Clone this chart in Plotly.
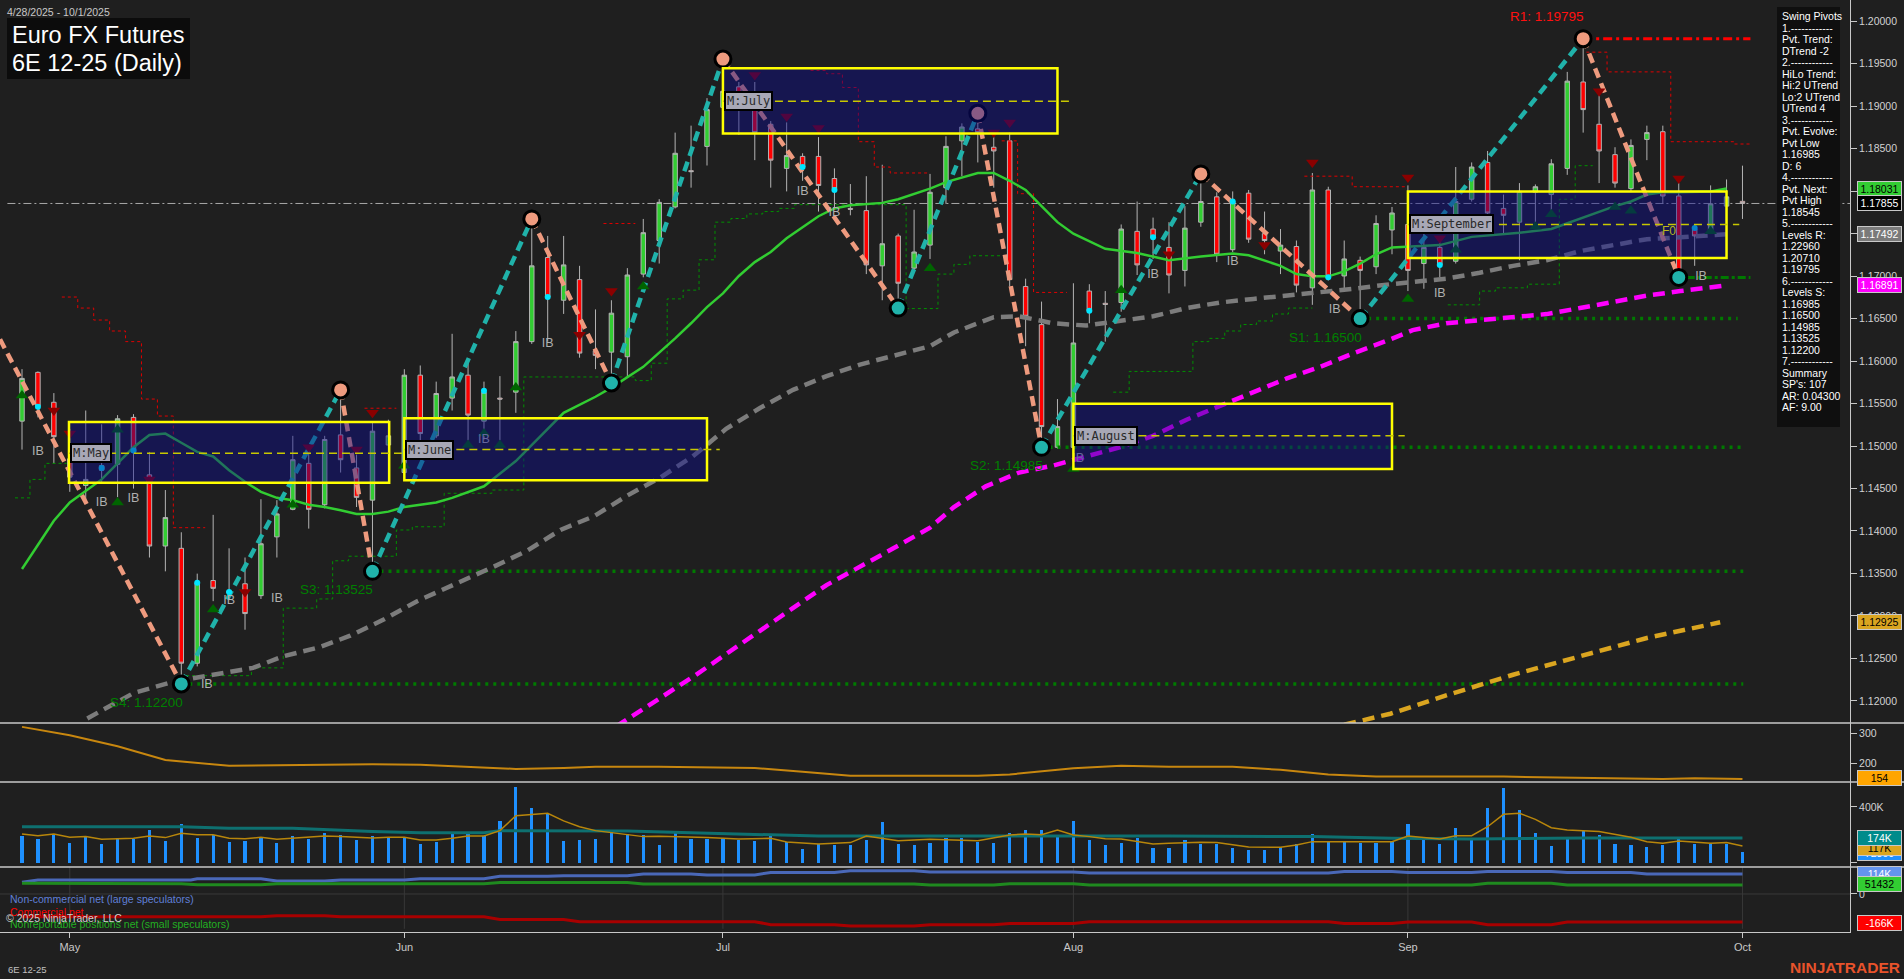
import plotly.graph_objects as go

# ---------------- data ----------------
bar_idx = list(range(109))
opens = [1.15293,1.15867,1.15515,1.14850,1.14536,1.14769,1.14785,1.15337,1.14661,1.13823,
1.13796,1.12444,1.13417,1.13293,1.13379,1.13239,1.13931,1.14255,1.14796,1.14309,
1.15131,1.14742,1.14363,1.15012,1.14688,1.15834,1.15120,1.15564,1.15834,1.15293,
1.15564,1.15634,1.16229,1.17219,1.16716,1.16959,1.16121,1.16105,1.16051,1.17024,
1.17419,1.17814,1.18241,1.18527,1.18987,1.19228,1.19014,1.18787,1.18268,1.18409,
1.18409,1.18149,1.17797,1.17771,1.17121,1.17473,1.17094,1.17365,1.18041,1.18592,
1.18733,1.18517,1.18592,1.16878,1.16429,1.14985,1.14985,1.16824,1.16680,1.16689,
1.17527,1.17554,1.17338,1.17067,1.17635,1.17933,1.17311,1.17976,1.17500,1.17295,
1.17349,1.16862,1.18014,1.17002,1.17186,1.17110,1.17543,1.17608,1.17148,1.17338,
1.17175,1.17905,1.18338,1.17797,1.17635,1.17987,1.17960,1.18268,1.19285,1.18787,
1.18430,1.18030,1.18609,1.18700,1.17943,1.17554,1.17527,1.17824,1.17880]
highs = [1.15905,1.15878,1.15623,1.15202,1.15418,1.15256,1.15364,1.15375,1.14931,1.14482,
1.13985,1.13498,1.14190,1.13796,1.13688,1.14374,1.14363,1.15120,1.15012,1.15120,
1.15661,1.14985,1.15283,1.15310,1.15904,1.15948,1.15758,1.16321,1.15986,1.15758,
1.15823,1.16353,1.17673,1.17473,1.17473,1.17121,1.16608,1.16716,1.17094,1.17673,
1.17906,1.18689,1.18771,1.19095,1.19555,1.19285,1.19285,1.18825,1.18809,1.18446,
1.18636,1.18268,1.18084,1.18176,1.18311,1.17500,1.17781,1.18203,1.18646,1.18798,
1.18917,1.18636,1.18689,1.16970,1.16700,1.15553,1.16916,1.16905,1.16824,1.17608,
1.17878,1.17689,1.17635,1.17824,1.18203,1.17987,1.17997,1.18014,1.17760,1.17554,
1.17419,1.18214,1.18052,1.17419,1.17230,1.17716,1.17814,1.18068,1.17527,1.17446,
1.18284,1.18338,1.18473,1.17960,1.18095,1.18079,1.18376,1.19404,1.19795,1.19176,
1.18517,1.18609,1.18771,1.18771,1.18095,1.17581,1.18068,1.18138,1.18300]
lows = [1.14958,1.15337,1.14796,1.14461,1.14363,1.14579,1.14398,1.14499,1.13688,1.13525,
1.12200,1.12406,1.13174,1.13238,1.12838,1.13200,1.13688,1.14244,1.14028,1.14266,
1.14688,1.14282,1.13525,1.14553,1.14661,1.15066,1.15093,1.15418,1.15066,1.15077,
1.15066,1.15391,1.16202,1.16229,1.16555,1.16040,1.15905,1.15742,1.15823,1.16986,
1.17148,1.17797,1.18041,1.18302,1.18906,1.18663,1.18365,1.18041,1.17997,1.18122,
1.17760,1.17797,1.17716,1.17024,1.16716,1.16624,1.17067,1.17202,1.17851,1.18176,
1.18338,1.18041,1.16878,1.16175,1.14985,1.14969,1.14850,1.16445,1.16229,1.16581,
1.17013,1.17202,1.16797,1.16878,1.17581,1.17165,1.17284,1.17392,1.17257,1.17024,
1.16808,1.16662,1.16948,1.16824,1.16500,1.17024,1.17257,1.16824,1.16851,1.16986,
1.17148,1.17878,1.17716,1.17500,1.17186,1.17581,1.17716,1.18192,1.18689,1.18095,
1.18041,1.17987,1.18365,1.17851,1.16985,1.17121,1.17500,1.17781,1.17673]
closes = [1.15796,1.15472,1.15110,1.14634,1.14607,1.14715,1.15321,1.14931,1.13823,1.14158,
1.12444,1.13390,1.13325,1.13271,1.13028,1.13850,1.14201,1.14839,1.14255,1.15077,
1.14839,1.14396,1.15175,1.15120,1.15834,1.15147,1.15618,1.15813,1.15364,1.15634,
1.15553,1.16229,1.17121,1.16754,1.17132,1.16094,1.16067,1.16564,1.17013,1.17511,
1.17868,1.18446,1.18230,1.18960,1.19176,1.19093,1.18689,1.18365,1.18419,1.18284,
1.18067,1.18029,1.17787,1.17132,1.17381,1.16916,1.17284,1.17987,1.18527,1.18755,
1.18689,1.18473,1.16959,1.16527,1.15229,1.15229,1.16213,1.16591,1.16667,1.17554,
1.17132,1.17457,1.17013,1.17565,1.17878,1.17257,1.17878,1.17435,1.17419,1.17365,
1.16894,1.18014,1.16986,1.17202,1.17067,1.17619,1.17743,1.17067,1.17338,1.17132,
1.17878,1.18284,1.17743,1.17716,1.17997,1.18052,1.18322,1.19295,1.18960,1.18473,
1.18095,1.18538,1.18689,1.17943,1.17067,1.17473,1.17851,1.17933,1.17855]
volume_k = [194,170,206,141,191,136,177,170,235,156,
278,180,196,148,156,175,141,191,168,213,
199,163,191,180,180,134,148,211,211,191,
299,546,393,354,156,163,170,235,206,199,
127,213,170,170,180,163,156,199,148,98,
134,127,127,163,292,134,127,141,177,177,
148,141,213,235,235,187,299,163,127,141,
177,105,105,163,134,134,105,91,91,112,
134,206,156,148,141,141,148,278,163,134,
249,177,393,536,378,213,120,184,227,199,
134,127,112,127,184,134,134,134,77]

month_tick_pos = [3, 24, 44, 66, 87, 108]
month_tick_text = ["May", "Jun", "Jul", "Aug", "Sep", "Oct"]
price_tick_vals = [1.120, 1.125, 1.130, 1.135, 1.140, 1.145, 1.150, 1.155, 1.160,
                   1.165, 1.170, 1.175, 1.180, 1.185, 1.190, 1.195, 1.200]
price_tick_text = ["1.12000", "1.12500", "1.13000", "1.13500", "1.14000", "1.14500",
                   "1.15000", "1.15500", "1.16000", "1.16500", "1.17000", "1.17500",
                   "1.18000", "1.18500", "1.19000", "1.19500", "1.20000"]

# moving averages
ma_green_x = [0,2,3,4,5,6,7,8,9,10,11,12,13,14,15,16,17,18,19,20,21,22,23,24,25,26,27,28,29,31,33,34,36,37,39,40,41,42,43,44,45,46,47,48,49,50,51,52,54,55,57,58,60,61,62,63,64,65,66,68,70,72,74,76,77,79,80,81,82,83,84,85,86,87,89,91,94,96,98,100,101,102,103,104,106,107]
ma_green_y = [1.13552,1.14120,1.14336,1.14471,1.14607,1.14796,1.14985,1.15131,1.15147,1.15039,1.14931,1.14877,1.14715,1.14580,1.14461,1.14390,1.14363,1.14309,1.14282,1.14244,1.14201,1.14201,1.14228,1.14282,1.14309,1.14336,1.14390,1.14461,1.14526,1.14823,1.15202,1.15391,1.15580,1.15688,1.15932,1.16094,1.16267,1.16445,1.16635,1.16797,1.17002,1.17165,1.17284,1.17446,1.17581,1.17705,1.17797,1.17835,1.17862,1.17905,1.18030,1.18106,1.18214,1.18214,1.18122,1.18014,1.17824,1.17635,1.17500,1.17322,1.17273,1.17186,1.17230,1.17267,1.17246,1.17121,1.17024,1.16997,1.16997,1.17056,1.17148,1.17257,1.17338,1.17349,1.17365,1.17462,1.17511,1.17554,1.17689,1.17824,1.17878,1.17960,1.17987,1.17987,1.17997,1.18031]
ma_gray_x = [4.1,7.0,9.5,12.0,14.5,16.4,18.7,20.6,22.7,24.8,28.1,29.6,31.7,33.8,35.9,38.0,40.1,42.1,44.2,46.3,48.4,50.5,52.6,54.7,57.0,58.5,61.0,62.6,64.7,66.8,68.9,71.0,73.1,75.2,77.3,79.4,81.5,83.6,85.9,89.4,91.5,93.6,95.7,97.8,99.9,102.0,104.1,107.0]
ma_gray_y = [1.11794,1.12092,1.12227,1.12308,1.12389,1.12525,1.12633,1.12768,1.12957,1.13174,1.13444,1.13579,1.13768,1.14012,1.14174,1.14417,1.14634,1.14877,1.15202,1.15445,1.15661,1.15823,1.15959,1.16067,1.16175,1.16337,1.16516,1.16527,1.16445,1.16418,1.16472,1.16527,1.16624,1.16689,1.16732,1.16770,1.16808,1.16851,1.16905,1.16970,1.17040,1.17121,1.17186,1.17294,1.17365,1.17435,1.17457,1.17492]
ma_magenta_x = [37.3,42.1,46.3,50.5,54.7,57.0,58.5,60.5,62.6,64.7,66.8,68.9,71.0,73.1,75.2,77.3,79.4,81.5,83.6,85.9,87.3,89.4,91.5,93.6,95.7,97.8,99.9,102.0,104.1,107.0]
ma_magenta_y = [1.11700,1.12281,1.12822,1.13363,1.13796,1.14039,1.14282,1.14526,1.14688,1.14769,1.14877,1.14985,1.15120,1.15310,1.15472,1.15634,1.15796,1.15932,1.16094,1.16256,1.16364,1.16445,1.16483,1.16526,1.16553,1.16624,1.16700,1.16770,1.16824,1.16891]
ma_gold_x = [83.0,85.9,89.4,93.6,97.8,102.0,106.6]
ma_gold_y = [1.11720,1.11849,1.12065,1.12308,1.12525,1.12741,1.12925]

# swing pivots
swing_x = [-1.38, 10, 20, 22, 32, 37, 44, 55, 60, 64, 74, 84, 98, 104]
swing_y = [1.16256, 1.12200, 1.15661, 1.13525, 1.17673, 1.15742, 1.19555, 1.16624,
           1.18917, 1.14985, 1.18203, 1.16500, 1.19795, 1.16985]

# trailing stop steps (None = gap)
stop_red_x = [2.5,3.5,4.5,5.5,6.5,7.5,8.5,9.5,11.5,None,21.5,23.5,None,36.5,38.5,None,
              49.5,50.5,51.5,52.5,53.5,54.5,57.0,None,61.5,62.5,63.5,65.6,None,
              80.5,83.5,86.8,None,98.2,99.5,103.5,107.5,108.5]
stop_red_y = [1.16754,1.16624,1.16483,1.16354,1.16229,1.15553,1.15353,1.14039,1.14039,None,
              1.15445,1.15445,None,1.17619,1.17619,None,
              1.19420,1.19382,1.19220,1.18582,1.18284,1.18214,1.18214,None,1.18592,1.17970,1.16808,1.16808,None,
              1.18176,1.18052,1.18052,None,1.19636,1.19404,1.18582,1.18555,1.18555]
stop_green_x = [-0.44,0.5,1.44,2.8,None,10.3,14.4,16.4,18.5,19.5,20.5,23.5,24.5,26.5,29.5,31.5,38.5,39.5,40.5,41.5,42.5,43.5,44.5,45.5,46.5,47.5,48.5,55.5,57.5,58.5,59.5,61.5,None,
                68.5,69.5,73.5,74.5,75.5,76.5,77.5,78.5,79.5,81.0,None,89.5,91.5,92.5,94.5,96.5,97.5,98.6]
stop_green_y = [1.14390,1.14607,1.14796,1.14796,None,1.12297,1.12389,1.13092,1.13200,1.13649,1.13703,1.14012,1.14050,1.14444,1.14482,1.15813,1.15770,1.15975,1.16732,1.16835,1.17192,1.17635,1.17678,1.17732,1.17760,1.17797,1.17841,1.16618,1.17024,1.17138,1.17240,1.17240,None,
                1.15634,1.15878,1.16229,1.16267,1.16354,1.16430,1.16472,1.16554,1.16624,1.16624,None,1.16662,1.16824,1.16862,1.16905,1.17905,1.18300,1.18300]

# signal markers
tri_up_x = [0,6,6,12,17,24,28,29,30,31,39,57,66,69,87,90,95,96,100,101,106]
tri_up_y = [1.15596,1.15191,1.14336,1.13076,1.14309,1.14769,1.15012,1.15147,1.15012,1.15688,1.16878,1.17094,1.14731,1.16835,1.16732,1.17311,1.17581,1.17727,1.17814,1.17770,1.17527]
tri_dn_x = [2,3,8,14,18,21,22,35,37,46,48,50,61,62,72,78,81,87,89,99,104]
tri_dn_y = [1.15418,1.15147,1.14607,1.13282,1.14985,1.14958,1.15391,1.16310,1.16824,1.19366,1.18879,1.18744,1.18689,1.18809,1.17257,1.17365,1.18338,1.18160,1.17446,1.19176,1.18149]
dot_x = [1,5,7,11,13,29,33,49,51,67,71,76,82,89,105]
dot_y = [1.15461,1.14742,1.14947,1.13390,1.13282,1.15650,1.16754,1.18284,1.18014,1.16591,1.17457,1.17878,1.16986,1.17132,1.17565]
ib_x = [1,5,7,11.6,13,16,29,33,49,51,66.3,71,76,82.4,89,105.4]
ib_y = [1.14931,1.14336,1.14379,1.12184,1.13174,1.13200,1.15077,1.16202,1.17987,1.17743,1.14850,1.17013,1.17165,1.16608,1.16786,1.16986]

# monthly value boxes
box_names = ["M:May", "M:June", "M:July", "M:August", "M:September"]
box_x0 = [2.95, 24.0, 44.0, 66.0, 87.0]
box_x1 = [23.05, 43.0, 65.0, 86.0, 107.0]
box_top = [1.15283, 1.15326, 1.19447, 1.15499, 1.17997]
box_bot = [1.14569, 1.14596, 1.18679, 1.14731, 1.17213]
box_mid = [1.14915, 1.14958, 1.19057, 1.15120, 1.17608]

# support / resistance levels
sup_names = ["S4: 1.12200", "S3: 1.13525", "S2: 1.14985", "S1: 1.16500"]
sup_vals = [1.12200, 1.13525, 1.14985, 1.16500]
sup_start = [10, 22, 64, 84]
sup_end = [108.05, 108.05, 107.9, 107.7]
sup_label_x = [7.8, 19.75, 61.8, 81.8]
sup_label_y = [1.11984, 1.13309, 1.14769, 1.16283]
r1_val = 1.19795
last_price = 1.17855

# lower panels
atr_x = [0,3,6,9,13,18,22,25,28,31,34,36,40,43,46,49,52,58,60,62,64,66,69,72,76,79,82,85,93,96,103,105,108]
atr_y = [320,293,257,212,193,197,198,197,190,183,186,190,190,189,186,174,161,161,161,165,174,185,193,190,190,180,165,158,158,156,150,153,150]
vavg_gold_x = [0,1,2,3,4,5,6,7,8,9,10,11,12,13,14,15,16,17,18,19,20,21,22,23,24,25,26,27,28,29,30,31,32,33,34,35,36,37,38,39,40,42,43,45,47,48,50,52,53,55,57,60,62,63,64,65,66,67,68,69,71,72,74,75,77,79,80,81,86,87,89,90,91,92,93,94,95,96,97,99,101,102,103,104,106,107,108]
vavg_gold_k = [206,194,206,182,187,168,172,175,191,180,211,201,201,175,172,182,168,177,182,191,187,182,177,182,182,163,163,175,191,191,230,337,347,355,300,258,230,215,199,187,190,185,180,170,175,148,134,144,191,158,168,158,199,206,201,235,199,187,172,170,134,139,146,144,112,110,127,151,151,191,170,194,194,258,347,354,311,251,235,223,182,151,139,156,139,144,120]
vavg_teal_x = [0,10,13,17,22,25,29,30,38,43,48,50,72,81,86,91,98,108]
vavg_teal_k = [258,258,247,247,223,215,215,230,227,211,199,191,191,187,175,170,177,177]
cot_nc_x = [0,1,10.6,11,15,16,19,20,24,25,29,30,33,34,38,39,42,43,46,47,51,52,56,57,66,67,82,83,86,87,91,92,96,97,101,102,108]
cot_nc_k = [67,80,80,87,87,74,74,80,80,87,87,101,101,104,104,114,114,109,109,122,122,133,133,126,126,120,120,128,128,122,122,128,128,122,122,114,114]
cot_nr_x = [0,10,11,15,16,29,30,38,39,56,57,61,62,66,67,91,92,96,97,108]
cot_nr_k = [61,59,53,53,59,59,65,65,57,57,51,51,59,59,51,51,61,61,51,51]
cot_cm_x = [0,15,16,19,20,29,30,34,35,46,47,51,52,56,57,61,62,66,67,82,83,86,87,91,92,96,97,108]
cot_cm_k = [-130,-130,-124,-124,-130,-130,-145,-145,-158,-158,-175,-175,-183,-183,-175,-175,-168,-168,-158,-158,-168,-168,-160,-160,-175,-175,-160,-160]

info_lines = ["Swing Pivots", "1.------------", "Pvt. Trend:", "DTrend -2", "2.------------",
              "HiLo Trend:", "Hi:2 UTrend", "Lo:2 UTrend", "UTrend 4", "3.------------",
              "Pvt. Evolve:", "Pvt Low", "1.16985", "D: 6", "4.------------",
              "Pvt. Next:", "Pvt High", "1.18545", "5.------------", "Levels R:",
              "1.22960", "1.20710", "1.19795", "6.------------", "Levels S:",
              "1.16985", "1.16500", "1.14985", "1.13525", "1.12200",
              "7.------------", "Summary", "SP's: 107", "AR: 0.04300", "AF: 9.00"]

# ---------------- figure ----------------
W, H = 1904, 979
PW, PH = 1850, 932  # plot area (margin r=54, b=47)
FONT = "Liberation Sans, Arial, sans-serif"
BG = "#1f1f1f"

def py(ypix):
    return 1 - ypix / PH

def px(xpix):
    return xpix / PW

fig = go.Figure()

# volume bars
fig.add_trace(go.Bar(x=bar_idx, y=[v * 1000 for v in volume_k], yaxis="y3", width=0.2,
                     marker=dict(color="#1E90FF", line=dict(width=0)), hoverinfo="skip"))

# candles
fig.add_trace(go.Candlestick(
    x=bar_idx, open=opens, high=highs, low=lows, close=closes, whiskerwidth=0,
    increasing=dict(fillcolor="#32CD32", line=dict(color="#b4b4b4", width=1)),
    decreasing=dict(fillcolor="#FF0000", line=dict(color="#b4b4b4", width=1)),
    hoverinfo="skip"))

def line(x, y, color, width, dash="solid", yaxis="y", shape="linear"):
    fig.add_trace(go.Scatter(x=x, y=y, mode="lines", yaxis=yaxis, hoverinfo="skip",
                             connectgaps=False,
                             line=dict(color=color, width=width, dash=dash, shape=shape)))

# trailing stop steps
line(stop_red_x, stop_red_y, "#E00000", 1, "dot", shape="hv")
line(stop_green_x, stop_green_y, "#009000", 1, "dot", shape="hv")

# support levels
for i in range(len(sup_vals)):
    line([sup_start[i], sup_end[i]], [sup_vals[i], sup_vals[i]], "#007a00", 3.5, "3px,5px")
line([104.5, 108.5], [swing_y[-1], swing_y[-1]], "#007a00", 3, "8px,3px,3px,3px")
line([98, 108.5], [r1_val, r1_val], "#FF0000", 3, "9px,4px,3px,4px")

# moving averages
line(ma_gray_x, ma_gray_y, "#7c7c7c", 4.5, "12px,7px")
line(ma_magenta_x, ma_magenta_y, "#FF00FF", 4.5, "12px,7px")
line(ma_gold_x, ma_gold_y, "#DAA520", 4.5, "12px,7px")
line(ma_green_x, ma_green_y, "#32CD32", 2.5)

# swing lines
for i in range(len(swing_x) - 1):
    down = swing_y[i + 1] < swing_y[i]
    line([swing_x[i], swing_x[i + 1]], [swing_y[i], swing_y[i + 1]],
         "#EE9A7E" if down else "#20B2AA", 4.5, "10px,6px")

# markers
fig.add_trace(go.Scatter(x=tri_up_x, y=tri_up_y, mode="markers", hoverinfo="skip",
                         marker=dict(symbol="triangle-up", size=11, color="#006400")))
fig.add_trace(go.Scatter(x=tri_dn_x, y=tri_dn_y, mode="markers", hoverinfo="skip",
                         marker=dict(symbol="triangle-down", size=11, color="#8B0000")))
fig.add_trace(go.Scatter(x=dot_x, y=dot_y, mode="markers", hoverinfo="skip",
                         marker=dict(symbol="circle", size=6, color="#00E5FF")))
fig.add_trace(go.Scatter(x=ib_x, y=ib_y, mode="text", text=["IB"] * len(ib_x), hoverinfo="skip",
                         textfont=dict(family=FONT, size=12.5, color="#b0b0b0")))
piv_col = ["#EE9A7E" if swing_y[i] > swing_y[i - 1] else "#20B2AA" for i in range(1, len(swing_x))]
fig.add_trace(go.Scatter(x=swing_x[1:], y=swing_y[1:], mode="markers", hoverinfo="skip",
                         marker=dict(symbol="circle", size=16, color=piv_col,
                                     line=dict(color="#000000", width=3))))

# lower panels
line(atr_x, atr_y, "#C8870F", 2, yaxis="y2")
line(vavg_teal_x, [v * 1000 for v in vavg_teal_k], "#0E7070", 3, yaxis="y3")
line(vavg_gold_x, [v * 1000 for v in vavg_gold_k], "#B8860B", 1.5, yaxis="y3")
line(cot_nc_x, [v * 1000 for v in cot_nc_k], "#4A68B8", 3, yaxis="y4")
line(cot_nr_x, [v * 1000 for v in cot_nr_k], "#1F8A1F", 3, yaxis="y4")
line(cot_cm_x, [v * 1000 for v in cot_cm_k], "#A80000", 3, yaxis="y4")

shapes = []
annotations = []

# last price line
shapes.append(dict(type="line", xref="paper", x0=0.004, x1=1, yref="y", y0=last_price, y1=last_price,
                   line=dict(color="#a8a8a8", width=1, dash="8px,3px,2px,3px"), layer="below"))

# month boxes
for i in range(len(box_names)):
    shapes.append(dict(type="rect", xref="x", yref="y", x0=box_x0[i], x1=box_x1[i],
                       y0=box_bot[i], y1=box_top[i], fillcolor="rgba(10,10,140,0.45)",
                       line=dict(color="#FFFF00", width=2.5), layer="above"))
    shapes.append(dict(type="line", xref="x", yref="y", x0=box_x0[i], x1=box_x1[i] + 0.8,
                       y0=box_mid[i], y1=box_mid[i], line=dict(color="#c8c800", width=1.5, dash="8px,5px"),
                       layer="above"))
    annotations.append(dict(xref="x", yref="y", x=box_x0[i] + 0.05, y=box_mid[i], text=box_names[i],
                            showarrow=False, xanchor="left", yanchor="middle",
                            font=dict(family="DejaVu Sans Mono, monospace", size=12, color="#2a2a2a"),
                            bgcolor="#a8a8b6", bordercolor="#000000", borderwidth=2, borderpad=1))

# level labels
for i in range(len(sup_names)):
    annotations.append(dict(xref="x", yref="y", x=sup_label_x[i], y=sup_label_y[i], text=sup_names[i],
                            showarrow=False, font=dict(family=FONT, size=13.5, color="#008000")))
annotations.append(dict(xref="x", yref="y", x=95.75, y=1.20052, text="R1: 1.19795", showarrow=False,
                        font=dict(family=FONT, size=13.5, color="#FF1010")))
annotations.append(dict(xref="x", yref="y", x=103.4, y=1.1753, text="F0", showarrow=False,
                        font=dict(family=FONT, size=12, color="#b8b820")))

# COT grid
shapes.append(dict(type="line", xref="paper", x0=0, x1=1, yref="y4", y0=0, y1=0,
                   line=dict(color="#3a3a3a", width=1), layer="below"))
for t in month_tick_pos:
    shapes.append(dict(type="line", xref="x", x0=t, x1=t, yref="y4 domain", y0=0.05, y1=1,
                       line=dict(color="#383838", width=1), layer="below"))

# panel separators
for yp in [723, 782, 867]:
    shapes.append(dict(type="line", xref="paper", x0=0, x1=1.03, yref="paper", y0=py(yp), y1=py(yp),
                       line=dict(color="#c8c8c8", width=1.5), layer="above"))

# title box
shapes.append(dict(type="rect", xref="paper", yref="paper", x0=px(7), x1=px(190), y0=py(79), y1=py(18),
                   fillcolor="#0c0c0c", line=dict(width=0), layer="above"))
annotations.append(dict(xref="paper", yref="paper", x=px(10), y=py(35), text="Euro FX Futures",
                        showarrow=False, xanchor="left", yanchor="middle",
                        font=dict(family=FONT, size=23.5, color="#ffffff")))
annotations.append(dict(xref="paper", yref="paper", x=px(10), y=py(63), text="6E 12-25 (Daily)",
                        showarrow=False, xanchor="left", yanchor="middle",
                        font=dict(family=FONT, size=23.5, color="#ffffff")))
annotations.append(dict(xref="paper", yref="paper", x=px(5), y=py(12), text="4/28/2025 - 10/1/2025",
                        showarrow=False, xanchor="left", yanchor="middle",
                        font=dict(family=FONT, size=10.5, color="#c8c8c8")))

# info panel
shapes.append(dict(type="rect", xref="paper", yref="paper", x0=px(1777), x1=px(1840), y0=py(427), y1=py(7),
                   fillcolor="#0f0f0f", line=dict(width=0), layer="above"))
for i, s in enumerate(info_lines):
    annotations.append(dict(xref="paper", yref="paper", x=px(1780), y=py(16 + i * 11.5), text=s,
                            showarrow=False, xanchor="left", yanchor="middle",
                            font=dict(family=FONT, size=10.5, color="#ffffff")))

# price tags
tags = [("y", 1.18031, "1.18031", "#32CD32", "#000000"),
        ("y", 1.17855, "1.17855", "#000000", "#ffffff"),
        ("y", 1.17492, "1.17492", "#7a7a7a", "#ffffff"),
        ("y", 1.16891, "1.16891", "#FF00FF", "#ffffff"),
        ("y", 1.12925, "1.12925", "#DAA520", "#000000"),
        ("y2", 153.4, "154", "#FFA500", "#000000"),
        ("y3", 72000, "72860", "#1E90FF", "#ffffff"),
        ("y3", 108000, "117K", "#DAA520", "#000000"),
        ("y3", 174000, "174K", "#008B8B", "#ffffff"),
        ("y4", 114000, "114K", "#6495ED", "#ffffff"),
        ("y4", 55500, "51432", "#32CD32", "#000000"),
        ("y4", -166000, "-166K", "#FF0000", "#ffffff")]
for ax, v, t, bg, fg in tags:
    fig.add_trace(go.Scatter(x=[115.02], y=[v], yaxis=ax, mode="markers", cliponaxis=False, hoverinfo="skip",
                             marker=dict(symbol="triangle-left", size=13, color=bg,
                                         line=dict(color="#c8c8c8", width=1))))
    annotations.append(dict(xref="paper", yref=ax, x=px(1857), y=v, text=t, showarrow=False,
                            xanchor="left", yanchor="middle", width=43, height=14, align="center",
                            bgcolor=bg, bordercolor="#c8c8c8", borderwidth=1, borderpad=0,
                            font=dict(family=FONT, size=10.5, color=fg)))

# bottom texts
annotations.append(dict(xref="paper", yref="paper", x=px(8), y=py(899), text="Non-commercial net (large speculators)",
                        showarrow=False, xanchor="left", yanchor="middle", font=dict(family=FONT, size=10.5, color="#5f7fd8")))
annotations.append(dict(xref="paper", yref="paper", x=px(8), y=py(912), text="Commercial net",
                        showarrow=False, xanchor="left", yanchor="middle", font=dict(family=FONT, size=10.5, color="#ff0000")))
annotations.append(dict(xref="paper", yref="paper", x=px(8), y=py(924), text="Nonreportable positions net (small speculators)",
                        showarrow=False, xanchor="left", yanchor="middle", font=dict(family=FONT, size=10.5, color="#22b022")))
annotations.append(dict(xref="paper", yref="paper", x=px(4), y=py(918), text="© 2025 NinjaTrader, LLC",
                        showarrow=False, xanchor="left", yanchor="middle", font=dict(family=FONT, size=10.5, color="#d0d0d0")))
annotations.append(dict(xref="paper", yref="paper", x=px(6), y=py(969), text="6E 12-25",
                        showarrow=False, xanchor="left", yanchor="middle", font=dict(family=FONT, size=9.5, color="#c0c0c0")))
annotations.append(dict(xref="paper", yref="paper", x=px(1902), y=py(968), text="<b>NINJATRADER</b>",
                        showarrow=False, xanchor="right", yanchor="middle", font=dict(family=FONT, size=15.5, color="#E8532B")))

yax = dict(side="right", anchor="x", showgrid=False, zeroline=False, showline=True, linecolor="#c8c8c8",
           linewidth=1, ticks="outside", ticklen=6, tickcolor="#c8c8c8", automargin=False, fixedrange=True,
           tickfont=dict(family=FONT, size=10.5, color="#d2d2d2"))

fig.update_layout(
    width=W, height=H, template="none", showlegend=False,
    paper_bgcolor=BG, plot_bgcolor=BG,
    margin=dict(l=0, r=W - PW, t=0, b=H - PH, pad=0),
    font=dict(family=FONT, color="#c8c8c8"),
    boxgap=0.6, bargap=0,
    xaxis=dict(domain=[0, 1], range=[-1.381, 114.75], anchor="y4", tickvals=month_tick_pos,
               ticktext=month_tick_text, ticks="outside", ticklen=5, tickcolor="#c8c8c8",
               tickfont=dict(family=FONT, size=11, color="#c8c8c8"), showline=True, linecolor="#c8c8c8",
               showgrid=False, zeroline=False, automargin=False, fixedrange=True,
               rangeslider=dict(visible=False)),
    yaxis=dict(yax, domain=[py(723), 1], range=[1.1174, 1.2025], tickvals=price_tick_vals,
               ticktext=price_tick_text),
    yaxis2=dict(yax, domain=[py(782), py(723)], range=[140.4, 332.6], tickvals=[200, 300],
                ticktext=["200", "300"]),
    yaxis3=dict(yax, domain=[py(867), py(782)], range=[-31000, 579000], tickvals=[0, 400000],
                ticktext=["", "400K"]),
    yaxis4=dict(yax, domain=[0, py(867)], range=[-217000, 154000], tickvals=[0], ticktext=["0"]),
    shapes=shapes, annotations=annotations,
)

fig.write_html("out.html", config={"displayModeBar": False},
               post_script="document.body.style.margin='0';document.body.style.overflow='hidden';")
